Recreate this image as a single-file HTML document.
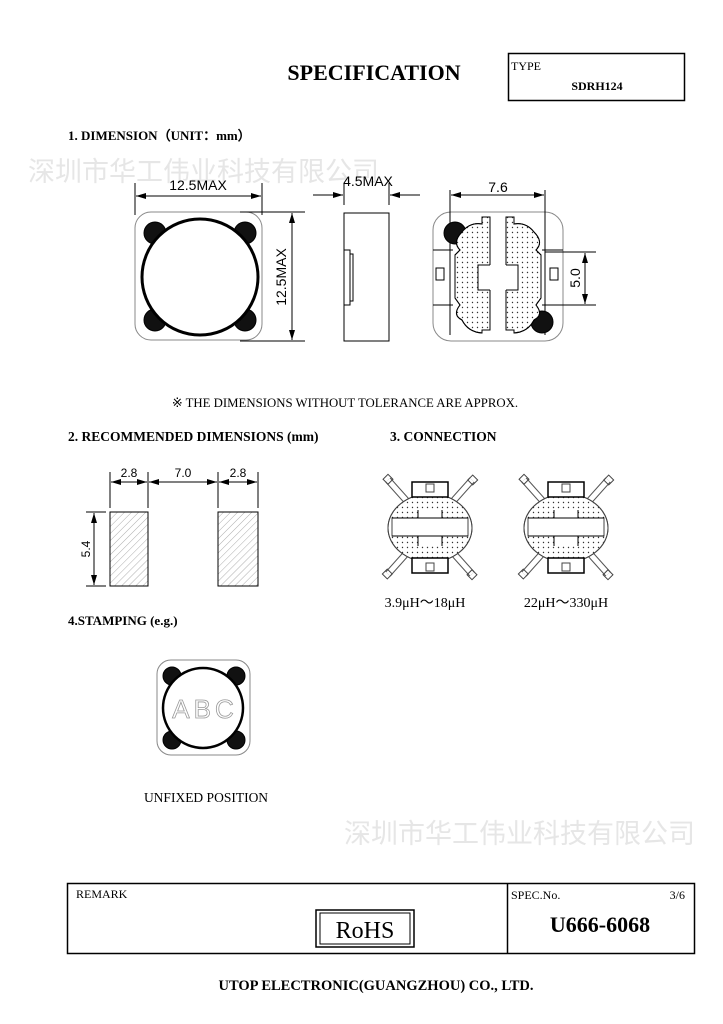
<!DOCTYPE html>
<html><head><meta charset="utf-8"><style>
html,body{margin:0;padding:0;background:#fff;}
svg{display:block;}
.s{font-family:"Liberation Serif",serif;}
.a{font-family:"Liberation Sans",sans-serif;}
</style></head><body>
<svg width="723" height="1024" viewBox="0 0 723 1024" xmlns="http://www.w3.org/2000/svg">
<defs>
<marker id="ar" markerWidth="10" markerHeight="6" refX="10" refY="3" orient="auto" markerUnits="userSpaceOnUse"><path d="M0,0 L10,3 L0,6 z" fill="#000"/></marker>
<pattern id="hat" width="5" height="5" patternUnits="userSpaceOnUse" patternTransform="rotate(45)"><line x1="0" y1="0" x2="0" y2="5" stroke="#999" stroke-width="0.8"/></pattern>
<pattern id="dot" width="5" height="5" patternUnits="userSpaceOnUse"><circle cx="2.5" cy="2.5" r="0.7" fill="#333"/></pattern>
</defs>
<text x="374" y="80" text-anchor="middle" class="s" font-size="22" font-weight="bold">SPECIFICATION</text>
<rect x="508.5" y="53.5" width="176" height="47" fill="none" stroke="#000" stroke-width="1.5"/>
<text x="511" y="70" class="s" font-size="12">TYPE</text>
<text x="597" y="90" text-anchor="middle" class="s" font-size="12" font-weight="bold">SDRH124</text>
<text x="68" y="140" class="s" font-size="13" font-weight="bold">1. DIMENSION（UNIT：mm）</text>
<text x="28" y="181" font-family="'Liberation Sans','Noto Sans CJK SC',sans-serif" font-size="27" fill="#e6e6e6">深圳市华工伟业科技有限公司</text>
<text x="344" y="843" font-family="'Liberation Sans','Noto Sans CJK SC',sans-serif" font-size="27" fill="#e6e6e6">深圳市华工伟业科技有限公司</text>

<!-- top view -->
<g stroke="#000" fill="none">
<rect x="135" y="212" width="127" height="128" rx="16" stroke="#888"/>
<circle cx="155" cy="233" r="11" fill="#111"/><circle cx="245" cy="233" r="11" fill="#111"/>
<circle cx="155" cy="320" r="11" fill="#111"/><circle cx="245" cy="320" r="11" fill="#111"/>
<circle cx="200" cy="277" r="58" fill="#fff" stroke-width="3"/>
<line x1="135" y1="183" x2="135" y2="215"/><line x1="262" y1="183" x2="262" y2="215"/>
<line x1="150" y1="196" x2="136" y2="196" marker-end="url(#ar)"/><line x1="150" y1="196" x2="261" y2="196" marker-end="url(#ar)"/>
<line x1="240" y1="212" x2="305" y2="212"/><line x1="240" y1="341" x2="305" y2="341"/>
<line x1="292" y1="277" x2="292" y2="213" marker-end="url(#ar)"/><line x1="292" y1="277" x2="292" y2="340" marker-end="url(#ar)"/>
</g>
<text x="198" y="190" text-anchor="middle" class="a" font-size="14">12.5MAX</text>
<text transform="translate(286,277) rotate(-90)" text-anchor="middle" class="a" font-size="14">12.5MAX</text>

<!-- side view -->
<g stroke="#000" fill="none">
<rect x="344" y="213" width="45" height="128"/>
<path d="M344,250 L350,250 L350,305 L344,305"/><path d="M350,254 L353,254 L353,301 L350,301"/>
<line x1="344" y1="183" x2="344" y2="205"/><line x1="389" y1="183" x2="389" y2="205"/>
<line x1="313" y1="195" x2="343" y2="195" marker-end="url(#ar)"/><line x1="420" y1="195" x2="390" y2="195" marker-end="url(#ar)"/>
</g>
<text x="368" y="186" text-anchor="middle" class="a" font-size="14">4.5MAX</text>

<!-- bottom view -->
<g stroke="#000" fill="none">
<rect x="433" y="212" width="130" height="129" rx="18" stroke="#888"/>
<line x1="450" y1="218" x2="450" y2="335"/><line x1="545" y1="218" x2="545" y2="335"/>
<line x1="433" y1="250" x2="453" y2="250"/><line x1="433" y1="305" x2="453" y2="305"/>
<line x1="542" y1="250" x2="563" y2="250"/><line x1="542" y1="305" x2="563" y2="305"/>
<rect x="436" y="268" width="8" height="12"/><rect x="550" y="268" width="8" height="12"/>
<circle cx="455" cy="233" r="11" fill="#111"/><circle cx="542" cy="322" r="11" fill="#111"/>
<path d="M462,232 Q470,222 482,224 L482,217 L490,217 L490,330 L482,330 L482,333 Q468,332 462,320 Q452,315 460,305 L455,298 L455,255 L460,250 Q452,242 462,232 Z" fill="#fff"/>
<path d="M462,232 Q470,222 482,224 L482,217 L490,217 L490,330 L482,330 L482,333 Q468,332 462,320 Q452,315 460,305 L455,298 L455,255 L460,250 Q452,242 462,232 Z" fill="url(#dot)"/>
<path d="M534,232 Q526,222 514,224 L514,217 L506,217 L506,330 L514,330 L514,333 Q528,332 534,320 Q544,315 536,305 L541,298 L541,255 L536,250 Q544,242 534,232 Z" fill="#fff"/>
<path d="M534,232 Q526,222 514,224 L514,217 L506,217 L506,330 L514,330 L514,333 Q528,332 534,320 Q544,315 536,305 L541,298 L541,255 L536,250 Q544,242 534,232 Z" fill="url(#dot)"/>
<rect x="478" y="265" width="40" height="25" fill="#fff" stroke="none"/>
<path d="M490,265 L478,265 L478,290 L490,290 M506,265 L518,265 L518,290 L506,290"/>
<line x1="497" y1="195" x2="451" y2="195" marker-end="url(#ar)"/><line x1="497" y1="195" x2="544" y2="195" marker-end="url(#ar)"/>
<line x1="450" y1="190" x2="450" y2="218"/><line x1="545" y1="190" x2="545" y2="218"/>
<line x1="545" y1="252" x2="596" y2="252"/><line x1="545" y1="305" x2="596" y2="305"/>
<line x1="585" y1="278" x2="585" y2="253" marker-end="url(#ar)"/><line x1="585" y1="278" x2="585" y2="304" marker-end="url(#ar)"/>
</g>
<text x="498" y="192" text-anchor="middle" class="a" font-size="14">7.6</text>
<text transform="translate(580,278) rotate(-90)" text-anchor="middle" class="a" font-size="14">5.0</text>

<text x="345" y="407" text-anchor="middle" class="s" font-size="12.8">※ THE DIMENSIONS WITHOUT TOLERANCE ARE APPROX.</text>
<text x="68" y="441" class="s" font-size="13.5" font-weight="bold">2. RECOMMENDED DIMENSIONS (mm)</text>
<text x="390" y="441" class="s" font-size="13.5" font-weight="bold">3. CONNECTION</text>

<!-- pads -->
<g stroke="#000" fill="none">
<rect x="110" y="512" width="38" height="74" fill="url(#hat)"/>
<rect x="218" y="512" width="40" height="74" fill="url(#hat)"/>
<line x1="110" y1="472" x2="110" y2="508"/><line x1="148" y1="472" x2="148" y2="508"/>
<line x1="218" y1="472" x2="218" y2="508"/><line x1="258" y1="472" x2="258" y2="508"/>
<line x1="129" y1="482" x2="111" y2="482" marker-end="url(#ar)"/><line x1="129" y1="482" x2="147" y2="482" marker-end="url(#ar)"/>
<line x1="183" y1="482" x2="149" y2="482" marker-end="url(#ar)"/><line x1="183" y1="482" x2="217" y2="482" marker-end="url(#ar)"/>
<line x1="238" y1="482" x2="219" y2="482" marker-end="url(#ar)"/><line x1="238" y1="482" x2="257" y2="482" marker-end="url(#ar)"/>
<line x1="86" y1="512" x2="106" y2="512"/><line x1="86" y1="586" x2="106" y2="586"/>
<line x1="94" y1="549" x2="94" y2="513" marker-end="url(#ar)"/><line x1="94" y1="549" x2="94" y2="585" marker-end="url(#ar)"/>
</g>
<text x="129" y="477" text-anchor="middle" class="a" font-size="12">2.8</text>
<text x="183" y="477" text-anchor="middle" class="a" font-size="12">7.0</text>
<text x="238" y="477" text-anchor="middle" class="a" font-size="12">2.8</text>
<text transform="translate(90,549) rotate(-90)" text-anchor="middle" class="a" font-size="12">5.4</text>

<!-- connection figures -->
<g id="cf" stroke="#444" fill="none" stroke-width="1">
<line x1="388" y1="480" x2="472" y2="574" stroke-width="7" stroke="#555"/>
<line x1="388" y1="480" x2="472" y2="574" stroke-width="5" stroke="#fff"/>
<line x1="472" y1="480" x2="388" y2="574" stroke-width="7" stroke="#555"/>
<line x1="472" y1="480" x2="388" y2="574" stroke-width="5" stroke="#fff"/>
<ellipse cx="430" cy="528" rx="42" ry="34" fill="#fff"/>
<ellipse cx="430" cy="528" rx="42" ry="34" fill="url(#dot)"/>
<rect x="392" y="518" width="76" height="18" fill="#fff"/>
<path d="M418,510 L418,518 L442,518 L442,510 M418,546 L418,536 L442,536 L442,546" fill="#fff" stroke="#000"/>
<line x1="392" y1="518" x2="468" y2="518" stroke="#000"/><line x1="392" y1="536" x2="468" y2="536" stroke="#000"/>
<rect x="412" y="482" width="36" height="15" fill="#fff" stroke="#000" stroke-width="1.5"/>
<rect x="412" y="558" width="36" height="15" fill="#fff" stroke="#000" stroke-width="1.5"/>
<rect x="426" y="484" width="8" height="8"/><rect x="426" y="563" width="8" height="8"/>
<rect x="384" y="476" width="7" height="7" transform="rotate(45 388 480)"/>
<rect x="469" y="476" width="7" height="7" transform="rotate(45 472 480)"/>
<rect x="384" y="571" width="7" height="7" transform="rotate(45 388 574)"/>
<rect x="469" y="571" width="7" height="7" transform="rotate(45 472 574)"/>
</g>
<use href="#cf" x="136"/>
<text x="425" y="607" text-anchor="middle" class="s" font-size="14">3.9μH～18μH</text>
<text x="566" y="607" text-anchor="middle" class="s" font-size="14">22μH～330μH</text>

<text x="68" y="625" class="s" font-size="13" font-weight="bold">4.STAMPING (e.g.)</text>
<g stroke="#000" fill="none">
<rect x="157" y="660" width="93" height="95" rx="14" stroke="#888"/>
<circle cx="172" cy="676" r="9" fill="#111"/><circle cx="236" cy="676" r="9" fill="#111"/>
<circle cx="172" cy="740" r="9" fill="#111"/><circle cx="236" cy="740" r="9" fill="#111"/>
<circle cx="203" cy="708" r="40" fill="#fff" stroke-width="2.5"/>
</g>
<text x="205" y="718" text-anchor="middle" class="a" font-size="26" fill="#fff" stroke="#999" stroke-width="0.8" letter-spacing="4">ABC</text>
<text x="206" y="802" text-anchor="middle" class="s" font-size="13.5">UNFIXED POSITION</text>

<!-- bottom table -->
<rect x="67.5" y="883.5" width="627" height="70" fill="none" stroke="#000" stroke-width="1.5"/>
<line x1="507.5" y1="883" x2="507.5" y2="954" stroke="#000" stroke-width="1.5"/>
<text x="76" y="898" class="s" font-size="12">REMARK</text>
<rect x="316" y="910" width="98" height="37" fill="none" stroke="#000" stroke-width="1.5"/>
<rect x="320" y="913" width="90" height="31" fill="none" stroke="#000"/>
<text x="365" y="938" text-anchor="middle" class="s" font-size="24">RoHS</text>
<text x="511" y="899" class="s" font-size="12">SPEC.No.</text>
<text x="685" y="899" text-anchor="end" class="s" font-size="12">3/6</text>
<text x="600" y="932" text-anchor="middle" class="s" font-size="22" font-weight="bold">U666-6068</text>
<text x="376" y="990" text-anchor="middle" class="s" font-size="14.5" font-weight="bold">UTOP ELECTRONIC(GUANGZHOU) CO., LTD.</text>
</svg>
</body></html>
